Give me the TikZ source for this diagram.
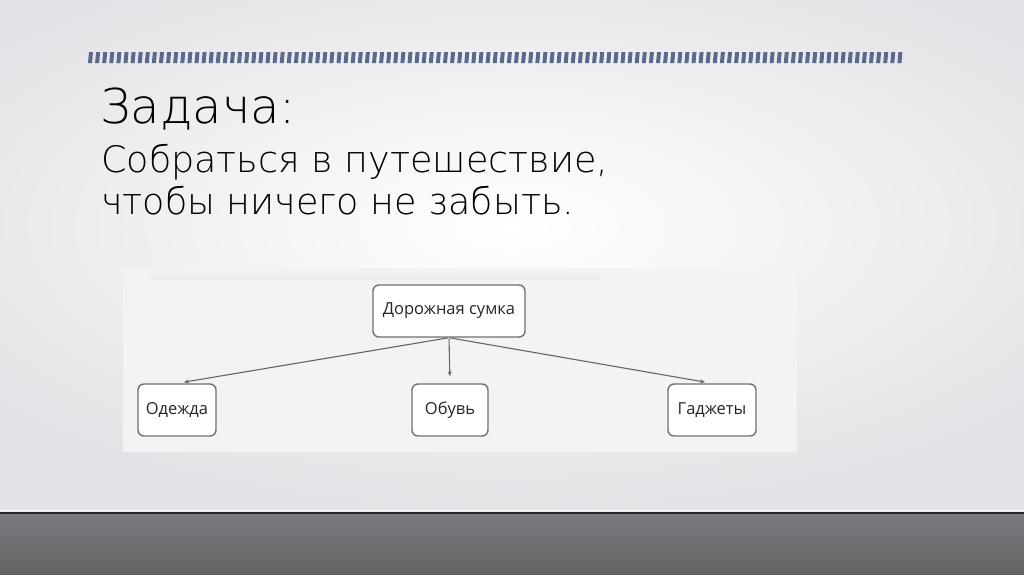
\documentclass[tikz,border=0pt]{standalone}
\usepackage{fontspec}
\IfFontExistsTF{DejaVu Sans ExtraLight}{\setmainfont{DejaVu Sans ExtraLight}}{\setmainfont{DejaVu Sans}}
\newfontfamily\boxfont{Open Sans}
\usetikzlibrary{arrows.meta}
\definecolor{barblue}{HTML}{5B6A8C}
\definecolor{slidegray}{HTML}{E3E3E7}
\definecolor{floorgray}{HTML}{7C7B7F}
\definecolor{panelgray}{HTML}{F3F3F5}
\definecolor{boxline}{HTML}{707070}
\tikzset{
    item/.style={draw=boxline, line width=1.4pt, fill=white, rounded corners=6pt,
        minimum height=52pt, inner xsep=6pt, font=\boxfont\fontsize{16.5}{20}\selectfont, text=black!85},
    link/.style={draw=black!60, line width=1.1pt, -{Stealth[length=5pt,width=4pt]}, shorten >=7pt, shorten <=1pt}
}
\begin{document}
\begin{tikzpicture}[x=1pt, y=-1pt]
    \useasboundingbox (0,0) rectangle (1024,574);
    % slide and floor (y axis points down, so top and bottom colours swap)
    \shade[inner color=white, outer color=slidegray] (-150,-60) rectangle (1174,512);
    \shade[bottom color=floorgray!80!black, top color=floorgray] (0,512) rectangle (1024,574);
    \draw[white, line width=1pt] (0,510.5) -- (1024,510.5);
    \draw[black!85, line width=2pt] (0,513) -- (1024,513);
    % striped bar
    \foreach \i in {0,...,114}
        \fill[barblue] (88+\i*7.1,63) -- ++(4,0) -- ++(1,-11) -- ++(-4,0) -- cycle;
    % title
    \node[anchor=base west, inner sep=0, font=\fontsize{48}{54}\selectfont] (title) at (100,123) {Задача:};
    \node[anchor=base west, inner sep=0, font=\fontsize{36.5}{42}\selectfont] (line1) at (101,172) {Собраться в путешествие,};
    \node[anchor=base west, inner sep=0, font=\fontsize{36.5}{42}\selectfont] (line2) at (101,214) {чтобы ничего не забыть.};
    % diagram panel
    \fill[panelgray] (123,268) rectangle (797,452);
    \shade[bottom color=black!7, top color=panelgray] (150,268) rectangle (600,279);

    \node[item, minimum width=152pt] (bag) at (449,311) {Дорожная сумка};
    \node[item, minimum width=78pt] (clothes) at (177,410) {Одежда};
    \node[item, minimum width=76pt] (shoes) at (450,410) {Обувь};
    \node[item, minimum width=88pt] (gadgets) at (712,410) {Гаджеты};

    \draw[link] (bag.south) -- (clothes.north);
    \draw[link] (bag.south) -- (shoes.north);
    \draw[link] (bag.south) -- (gadgets.north);
\end{tikzpicture}
\end{document}
